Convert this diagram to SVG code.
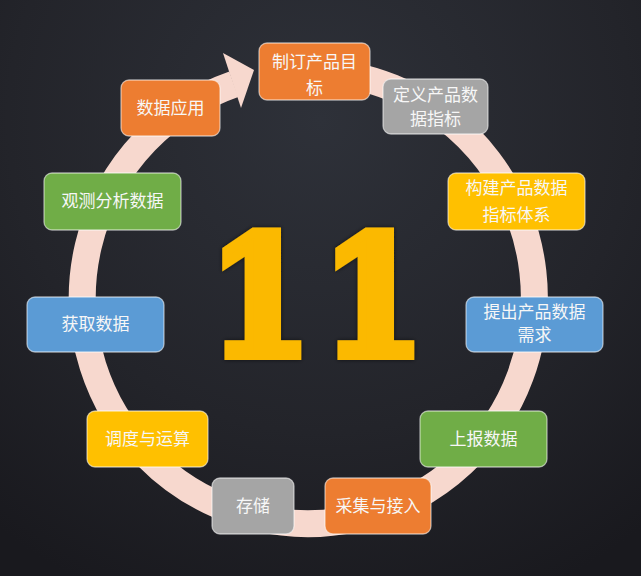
<svg xmlns="http://www.w3.org/2000/svg" width="641" height="576" viewBox="0 0 641 576">
  <defs>
    <radialGradient id="bg" cx="320" cy="120" r="520" gradientUnits="userSpaceOnUse">
      <stop offset="0" stop-color="#2e3139"/>
      <stop offset="0.6" stop-color="#23242a"/>
      <stop offset="1" stop-color="#19191e"/>
    </radialGradient>
    <filter id="sh" x="-20%" y="-20%" width="140%" height="140%">
      <feDropShadow dx="0" dy="0" stdDeviation="2" flood-color="#000" flood-opacity="0.6"/>
    </filter>
  </defs>
  <style>
    .box { stroke: #ffffff; stroke-opacity: 0.55; stroke-width: 1.3; }
    .orange { fill: #ed7d31; }
    .gray { fill: #a5a5a5; }
    .yellow { fill: #ffc000; }
    .green { fill: #70ad47; }
    .blue { fill: #5b9bd5; }
    .t { font-family: "Noto Sans CJK SC", "Microsoft YaHei", sans-serif; font-size: 17px; fill: #f7f7f7; text-anchor: middle; }
    .ring { fill: none; stroke: #f7d8ce; stroke-width: 27; }
    .big { font-family: "DejaVu Serif", "Liberation Serif", serif; font-weight: bold; font-size: 164px; fill: #fbb900; stroke: #fbb900; stroke-width: 10; stroke-linejoin: miter; text-anchor: middle; }
  </style>
  <rect width="641" height="576" fill="url(#bg)"/>

  <g id="connectors">
    <path class="ring" d="M 288.8 72.4 A 226 226 0 1 1 233.8 84.2"/>
    <polygon points="223,53 254,70 241,108" fill="#f7d8ce"/>
  </g>

  <g id="center-number" filter="url(#sh)">
    <text class="big" transform="translate(260,355) scale(0.9,1)" x="0" y="0">1</text>
    <text class="big" transform="translate(373,355) scale(0.9,1)" x="0" y="0">1</text>
  </g>

  <g id="n1">
    <rect class="box orange" x="259" y="43" width="111" height="57" rx="8"/>
    <text class="t" x="314.5" y="68">制订产品目</text>
    <text class="t" x="314.5" y="94">标</text>
  </g>
  <g id="n2">
    <rect class="box gray" x="383" y="79" width="105" height="55" rx="8"/>
    <text class="t" x="435.5" y="101">定义产品数</text>
    <text class="t" x="435.5" y="125">据指标</text>
  </g>
  <g id="n3">
    <rect class="box yellow" x="448" y="173" width="137" height="57" rx="8"/>
    <text class="t" x="516.5" y="194">构建产品数据</text>
    <text class="t" x="516.5" y="221">指标体系</text>
  </g>
  <g id="n4">
    <rect class="box blue" x="466" y="297" width="137" height="55" rx="8"/>
    <text class="t" x="534.5" y="318">提出产品数据</text>
    <text class="t" x="534.5" y="341">需求</text>
  </g>
  <g id="n5">
    <rect class="box green" x="420" y="411" width="127" height="56" rx="8"/>
    <text class="t" x="483.5" y="445">上报数据</text>
  </g>
  <g id="n6">
    <rect class="box orange" x="325" y="478" width="106" height="56" rx="8"/>
    <text class="t" x="378" y="512">采集与接入</text>
  </g>
  <g id="n7">
    <rect class="box gray" x="212" y="478" width="82" height="56" rx="8"/>
    <text class="t" x="253" y="512">存储</text>
  </g>
  <g id="n8">
    <rect class="box yellow" x="87" y="411" width="121" height="56" rx="8"/>
    <text class="t" x="147.5" y="445">调度与运算</text>
  </g>
  <g id="n9">
    <rect class="box blue" x="27" y="297" width="137" height="55" rx="8"/>
    <text class="t" x="95.5" y="330">获取数据</text>
  </g>
  <g id="n10">
    <rect class="box green" x="44" y="173" width="137" height="57" rx="8"/>
    <text class="t" x="112.5" y="207">观测分析数据</text>
  </g>
  <g id="n11">
    <rect class="box orange" x="121" y="80" width="99" height="56" rx="8"/>
    <text class="t" x="170.5" y="114">数据应用</text>
  </g>
</svg>
